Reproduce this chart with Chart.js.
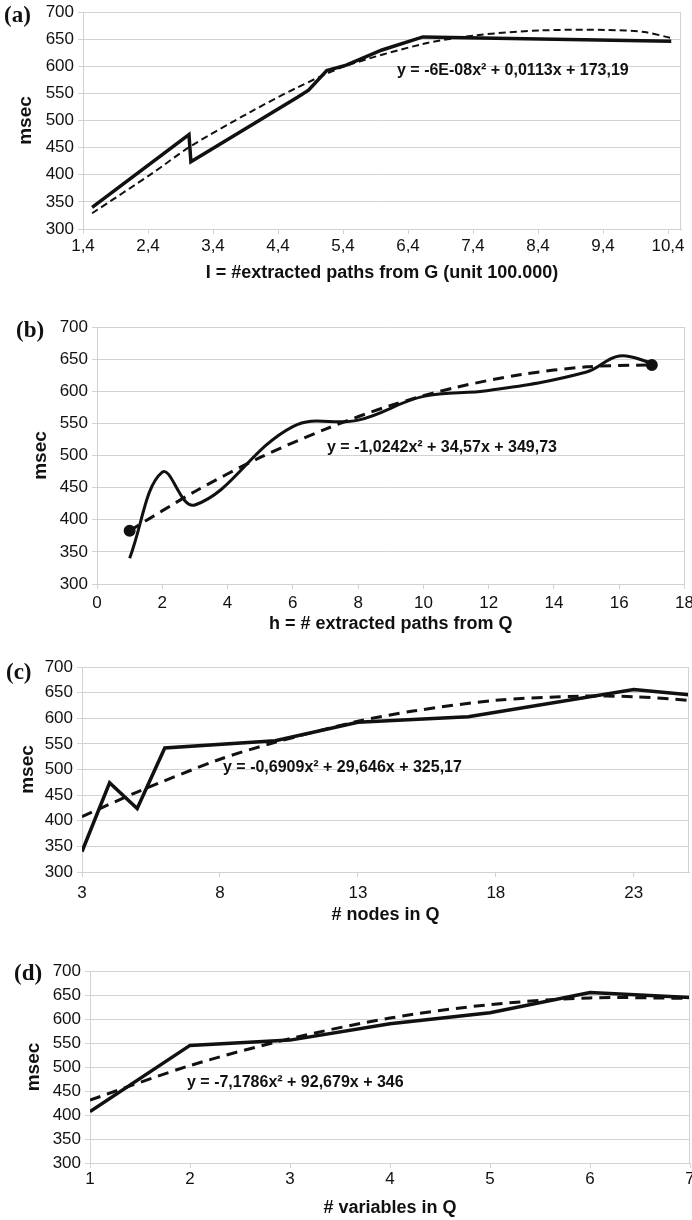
<!DOCTYPE html>
<html><head><meta charset="utf-8">
<script src="https://cdn.jsdelivr.net/npm/chart.js@4.4.0/dist/chart.umd.min.js"></script>
<style>
html,body{margin:0;padding:0;background:#fff;width:692px;height:1220px;overflow:hidden;position:relative}
canvas{position:absolute;left:0}
.lab{position:absolute;font-family:'Liberation Serif','Times New Roman',serif;font-weight:bold;font-size:23px;line-height:26px;color:#111}
.eq{position:absolute;font-family:'Liberation Sans Narrow','Arial Narrow','Liberation Sans',sans-serif;font-weight:bold;font-size:16px;line-height:18px;color:#111;white-space:nowrap;transform:translateY(-50%)}
</style></head><body>
<canvas id="ca" width="692" height="290" style="top:0"></canvas>
<canvas id="cb" width="692" height="335" style="top:300px"></canvas>
<canvas id="cc" width="692" height="290" style="top:640px"></canvas>
<canvas id="cd" width="692" height="280" style="top:940px"></canvas>
<div class="lab" style="left:4px;top:2px">(a)</div>
<div class="lab" style="left:16px;top:317px">(b)</div>
<div class="lab" style="left:6px;top:659px">(c)</div>
<div class="lab" style="left:14px;top:960px">(d)</div>
<div class="eq" style="left:397px;top:70px">y = -6E-08x² + 0,0113x + 173,19</div>
<div class="eq" style="left:327px;top:447px">y = -1,0242x² + 34,57x + 349,73</div>
<div class="eq" style="left:223px;top:767px">y = -0,6909x² + 29,646x + 325,17</div>
<div class="eq" style="left:187px;top:1082px">y = -7,1786x² + 92,679x + 346</div>
<script>
// ---- shared y axis ----
const yTicks = [300, 350, 400, 450, 500, 550, 600, 650, 700];

// ---- (a) ----
const aTickValues = [1.4, 2.4, 3.4, 4.4, 5.4, 6.4, 7.4, 8.4, 9.4, 10.4];
const aTickLabels = ['1,4', '2,4', '3,4', '4,4', '5,4', '6,4', '7,4', '8,4', '9,4', '10,4'];
const aX = [1.54, 3.03, 3.06, 4.7, 4.87, 5.15, 5.45, 6.0, 6.63, 10.45];
const aY = [340, 474, 424, 543, 556, 592, 602, 630, 654, 646];
const aTrendX = [1.54, 2.47, 3.05, 3.98, 4.7, 5.43, 6.63, 7.44, 8.44, 9.44, 10.04, 10.45];
const aTrendY = [329, 403, 452, 516, 561, 600, 641, 657, 666, 667, 663, 652];

// ---- (b) ----
const bTickValues = [0, 2, 4, 6, 8, 10, 12, 14, 16, 18];
const bTickLabels = ['0', '2', '4', '6', '8', '10', '12', '14', '16', '18'];
const bX = [1, 2, 3, 6, 8, 10, 12, 15, 16, 17];
const bY = [340, 474, 423, 545, 555, 592, 601, 630, 655, 644];
const bTrendX = [1, 3, 5, 7, 9, 11, 13, 15, 17];
const bTrendY = [383, 444, 497, 541, 578, 606, 626, 638, 641];

// ---- (c) ----
const cTickValues = [3, 8, 13, 18, 23];
const cTickLabels = ['3', '8', '13', '18', '23'];
const cX = [3, 4, 5, 6, 10, 13, 17, 23, 25];
const cY = [340, 474, 424, 542, 556, 592, 603, 656, 646];
const cTrendX = [3, 5, 8, 10, 13, 15, 18, 21, 23, 25];
const cTrendY = [408, 456, 520, 553, 594, 614, 635, 643, 642, 635];

// ---- (d) ----
const dTickValues = [1, 2, 3, 4, 5, 6, 7];
const dTickLabels = ['1', '2', '3', '4', '5', '6', '7'];
const dX = [1, 2, 3, 4, 5, 6, 7];
const dY = [407, 545, 556, 590, 613, 655, 645];
const dTrendX = [1, 2, 3, 4, 5, 6, 7];
const dTrendY = [431, 503, 559, 602, 630, 644, 643];

const NARROW = "'Liberation Sans Narrow','Arial Narrow','Liberation Sans',sans-serif";
const GRID = '#d2d2d2';
const INK = '#111';
const W = 692;

const pts = (xs, ys) => xs.map((x, i) => ({x: x, y: ys[i]}));

const borderPlugin = {
  id: 'frame',
  afterDraw(chart) {
    const a = chart.chartArea, ctx = chart.ctx;
    ctx.save();
    ctx.strokeStyle = GRID; ctx.lineWidth = 1;
    ctx.beginPath();
    ctx.moveTo(Math.round(a.right) - 0.5, a.top);
    ctx.lineTo(Math.round(a.right) - 0.5, a.bottom);
    ctx.stroke();
    ctx.restore();
  }
};

function makeChart(id, o) {
  const H = document.getElementById(id).height;
  return new Chart(document.getElementById(id), {
    type: 'scatter',
    data: { datasets: o.datasets },
    options: {
      responsive: false, animation: false,
      layout: { padding: { top: o.area.top, right: W - o.area.right, left: 0, bottom: 0 } },
      plugins: { legend: { display: false }, tooltip: { enabled: false } },
      scales: {
        x: {
          type: 'linear', min: o.xmin, max: o.xmax,
          afterBuildTicks: s => { s.ticks = o.tickValues.map(v => ({ value: v })); },
          afterFit: s => { s.height = H - o.area.bottom; s.paddingLeft = 0; s.paddingRight = 0; },
          ticks: { callback: (v, i) => o.tickLabels[i], autoSkip: false, maxRotation: 0,
                   font: { family: NARROW, size: 17 }, color: INK, padding: o.tickPad },
          grid: { drawOnChartArea: false, color: GRID, tickLength: 5 },
          border: { color: GRID },
          title: { display: true, text: o.xTitle, color: INK,
                   font: { family: NARROW, size: 18, weight: 'bold' },
                   padding: { top: 0, bottom: o.xTitlePad } }
        },
        y: {
          type: 'linear', min: 300, max: 700,
          afterBuildTicks: s => { s.ticks = yTicks.map(v => ({ value: v })); },
          afterFit: s => { s.width = o.area.left; s.paddingTop = 0; s.paddingBottom = 0; },
          ticks: { font: { family: NARROW, size: 17 }, color: INK, padding: 4 },
          grid: { color: GRID, tickLength: 5 },
          border: { color: GRID },
          title: { display: true, text: 'msec', color: INK,
                   font: { family: "'Liberation Sans',Arial,sans-serif", size: 19, weight: 'bold' },
                   padding: { top: o.yTitlePad, bottom: 0 } }
        }
      }
    },
    plugins: [borderPlugin]
  });
}

const solid = (data, w, tension) => ({ data, showLine: true, borderColor: INK, borderWidth: w,
  pointRadius: 0, tension: tension || 0, borderCapStyle: 'butt', borderJoinStyle: 'miter' });
const dashed = (data, w, dash, opts) => Object.assign({ data, showLine: true, borderColor: INK,
  borderWidth: w, borderDash: dash, pointRadius: 0, tension: 0.3 }, opts || {});

makeChart('ca', {
  area: { left: 83, top: 12, right: 681, bottom: 229 },
  xmin: 1.4, xmax: 10.6, tickValues: aTickValues, tickLabels: aTickLabels,
  xTitle: 'I = #extracted paths from G (unit 100.000)',
  tickPad: 2, xTitlePad: 6, yTitlePad: 14,
  datasets: [
    dashed(pts(aTrendX, aTrendY), 2, [7, 4]),
    solid(pts(aX, aY), 3.5)
  ]
});

makeChart('cb', {
  area: { left: 97, top: 27, right: 689, bottom: 284 },
  xmin: 0, xmax: 18, tickValues: bTickValues, tickLabels: bTickLabels,
  xTitle: 'h = # extracted paths from Q',
  tickPad: 4, xTitlePad: 0, yTitlePad: 29,
  datasets: [
    dashed(pts(bTrendX, bTrendY), 3, [11, 7], {
      pointRadius: c => (c.dataIndex === 0 || c.dataIndex === bTrendX.length - 1) ? 4.5 : 0,
      pointBackgroundColor: INK, pointBorderColor: INK }),
    solid(pts(bX, bY), 3, 0.4)
  ]
});

makeChart('cc', {
  area: { left: 82, top: 27, right: 689, bottom: 232 },
  xmin: 3, xmax: 25, tickValues: cTickValues, tickLabels: cTickLabels,
  xTitle: '# nodes in Q',
  tickPad: 6, xTitlePad: 4, yTitlePad: 16,
  datasets: [
    dashed(pts(cTrendX, cTrendY), 3, [11, 7]),
    solid(pts(cX, cY), 3.5)
  ]
});

makeChart('cd', {
  area: { left: 90, top: 31, right: 690, bottom: 223 },
  xmin: 1, xmax: 7, tickValues: dTickValues, tickLabels: dTickLabels,
  xTitle: '# variables in Q',
  tickPad: 1, xTitlePad: 1, yTitlePad: 22,
  datasets: [
    dashed(pts(dTrendX, dTrendY), 3, [11, 7]),
    solid(pts(dX, dY), 3.5)
  ]
});
</script>
</body></html>
